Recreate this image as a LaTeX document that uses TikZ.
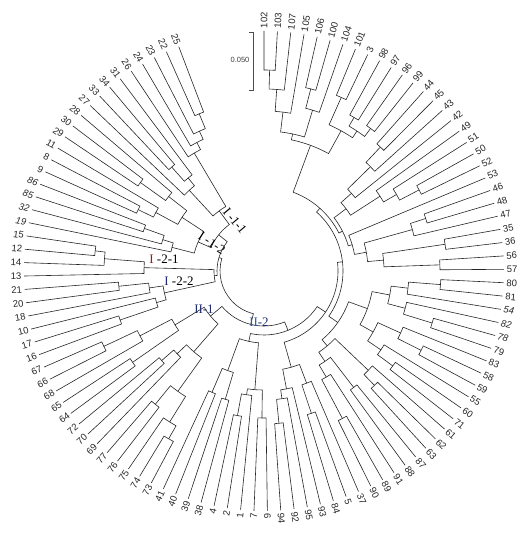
\documentclass[tikz,border=0pt]{standalone}
\usepackage{fontspec}
\setmainfont{Liberation Serif}
\newfontfamily\lblfont{Liberation Sans}
\definecolor{gred}{RGB}{150,30,30}
\definecolor{gnavy}{RGB}{30,45,110}
\definecolor{gblue}{RGB}{40,90,160}
\tikzset{
  br/.style={line width=0.6pt, draw=black!85},
  lbl/.style={font=\lblfont\fontsize{9.5}{11}\selectfont, inner sep=0.6pt, text=black!85},
  itl/.style={font=\lblfont\fontsize{9.5}{11}\selectfont\itshape},
  grp/.style={font=\fontsize{13}{15}\selectfont, inner sep=0pt, text=black},
  sb/.style={line width=0.6pt, draw=black!70},
  sblbl/.style={font=\lblfont\fontsize{7.5}{9}\selectfont, text=black!75, inner sep=0pt}
}
% leaf: index, label, extra style
\newcommand\Lf[3]{%
  \expandafter\xdef\csname tp@#2\endcsname{#1}%
  \expandafter\xdef\csname tr@#2\endcsname{240}%
  \pgfmathsetmacro\lang{90-(#1-1)*3.2}%
  \pgfmathtruncatemacro\lside{cos(\lang)>-0.01 ? 1 : 0}%
  \ifnum\lside=1
    \node[lbl,#3,anchor=west,rotate=\lang] (n#2) at (\lang:242pt) {#2};%
  \else
    \pgfmathsetmacro\lrot{\lang+180}%
    \node[lbl,#3,anchor=east,rotate=\lrot] (n#2) at (\lang:242pt) {#2};%
  \fi
}
% join: name, child1, child2, radius
\newcommand\J[4]{%
  \pgfmathsetmacro\posA{\csname tp@#2\endcsname}%
  \pgfmathsetmacro\posB{\csname tp@#3\endcsname}%
  \pgfmathsetmacro\posM{(\posA+\posB)/2}%
  \expandafter\xdef\csname tp@#1\endcsname{\posM}%
  \expandafter\xdef\csname tr@#1\endcsname{#4}%
  \pgfmathsetmacro\angA{90-(\posA-1)*3.2}%
  \pgfmathsetmacro\angB{90-(\posB-1)*3.2}%
  \edef\radA{\csname tr@#2\endcsname}%
  \edef\radB{\csname tr@#3\endcsname}%
  \draw[br] (\angA:\radA pt) -- (\angA:#4pt) arc[start angle=\angA, end angle=\angB, radius=#4pt] -- (\angB:\radB pt);%
}
\begin{document}
\begin{tikzpicture}
\useasboundingbox (-264pt,-263pt) rectangle (267pt,271pt);
% leaves
\Lf{1}{102}{}\Lf{2}{103}{}\Lf{3}{107}{}\Lf{4}{105}{}\Lf{5}{106}{}\Lf{6}{100}{}
\Lf{7}{104}{}\Lf{8}{101}{}\Lf{9}{3}{}\Lf{10}{98}{}\Lf{11}{97}{}\Lf{12}{96}{}
\Lf{13}{99}{}\Lf{14}{44}{}\Lf{15}{45}{}\Lf{16}{43}{}\Lf{17}{42}{}\Lf{18}{49}{}
\Lf{19}{51}{}\Lf{20}{50}{}\Lf{21}{52}{}\Lf{22}{53}{}\Lf{23}{46}{}\Lf{24}{48}{}
\Lf{25}{47}{}\Lf{26}{35}{}\Lf{27}{36}{}\Lf{28}{56}{}\Lf{29}{57}{}\Lf{30}{80}{}
\Lf{31}{81}{}\Lf{32}{54}{itl}\Lf{33}{82}{itl}\Lf{34}{78}{itl}\Lf{35}{79}{}\Lf{36}{83}{}
\Lf{37}{58}{}\Lf{38}{59}{}\Lf{39}{55}{}\Lf{40}{60}{}\Lf{41}{71}{}\Lf{42}{61}{}
\Lf{43}{62}{}\Lf{44}{63}{}\Lf{45}{87}{}\Lf{46}{88}{}\Lf{47}{91}{}\Lf{48}{89}{}
\Lf{49}{90}{}\Lf{50}{37}{}\Lf{51}{5}{}\Lf{52}{84}{}\Lf{53}{93}{}\Lf{54}{95}{}
\Lf{55}{92}{}\Lf{56}{94}{}\Lf{57}{6}{}\Lf{58}{7}{}\Lf{59}{1}{}\Lf{60}{2}{}
\Lf{61}{4}{}\Lf{62}{38}{}\Lf{63}{39}{}\Lf{64}{40}{}\Lf{65}{41}{}\Lf{66}{73}{}
\Lf{67}{74}{}\Lf{68}{75}{}\Lf{69}{76}{}\Lf{70}{77}{}\Lf{71}{69}{}\Lf{72}{70}{}
\Lf{73}{72}{}\Lf{74}{64}{}\Lf{75}{65}{}\Lf{76}{68}{}\Lf{77}{66}{}\Lf{78}{67}{}
\Lf{79}{16}{}\Lf{80}{17}{}\Lf{81}{10}{}\Lf{82}{18}{}\Lf{83}{20}{}\Lf{84}{21}{}
\Lf{85}{13}{}\Lf{86}{14}{}\Lf{87}{12}{}\Lf{88}{15}{}\Lf{89}{19}{itl}\Lf{90}{32}{itl}
\Lf{91}{85}{itl}\Lf{92}{86}{itl}\Lf{93}{9}{}\Lf{94}{8}{}\Lf{95}{11}{}\Lf{96}{29}{}
\Lf{97}{30}{}\Lf{98}{28}{}\Lf{99}{27}{}\Lf{100}{33}{}\Lf{101}{34}{}\Lf{102}{31}{}
\Lf{103}{26}{}\Lf{104}{24}{}\Lf{105}{23}{}\Lf{106}{22}{}\Lf{107}{25}{}
% clade A
\J{a1}{102}{103}{201}\J{a2}{a1}{107}{182}\J{a3}{a2}{105}{160}
\J{a4}{106}{100}{188}\J{a5}{a4}{104}{168}\J{a6}{a3}{a5}{140}
\J{a7}{101}{3}{190}\J{a8}{98}{97}{178}\J{a9}{96}{99}{178}
\J{a10}{a8}{a9}{168}\J{a11}{a7}{a10}{160}\J{aA}{a6}{a11}{134}
% clade B
\J{b1}{44}{45}{170}\J{b2}{b1}{43}{149}\J{b3}{b2}{42}{117}
\J{b4}{50}{52}{175}\J{b5}{51}{b4}{153}\J{b6}{49}{b5}{138}
\J{b7}{b3}{b6}{103}\J{b8}{46}{48}{170}\J{b9}{b8}{47}{154}
\J{b11}{35}{36}{183}\J{b12}{56}{57}{176}
\J{b13}{b11}{b12}{120}\J{b14}{b9}{b13}{104}\J{b15}{53}{b14}{92}
\J{bB}{b7}{b15}{88}
% clade C
\J{c1}{80}{81}{177}\J{c2}{c1}{54}{145}\J{c3}{78}{79}{176}
\J{c4}{82}{c3}{146}\J{c5}{c2}{c4}{128}\J{c6}{58}{59}{176}
\J{c7}{83}{c6}{150}\J{c8}{60}{71}{160}\J{c9}{55}{c8}{141}
\J{c10}{c7}{c9}{125}\J{c11}{c5}{c10}{110}\J{c12}{62}{63}{159}
\J{c13}{61}{c12}{144}\J{c14}{87}{88}{147}\J{c15}{89}{90}{167}
\J{c16}{91}{c15}{123}\J{c17}{c14}{c16}{109}\J{c18}{c13}{c17}{98}
\J{cC}{c11}{c18}{90}
% clade D
\J{d1}{92}{94}{153}\J{d2}{95}{d1}{129}\J{d3}{93}{d2}{120}
\J{d4}{5}{84}{150}\J{d5}{37}{d4}{120}\J{dD}{d5}{d3}{100}
% clade Z
\J{z1}{6}{7}{147}\J{z2}{2}{4}{147}\J{z3}{1}{z2}{125}
\J{z4}{z1}{z3}{119}\J{z5}{38}{39}{134}\J{z6}{40}{41}{132}
\J{z7}{z5}{z6}{106}\J{zZ}{z4}{z7}{72}
% II-2 backbone
\J{AB}{aA}{bB}{84}\J{ABC}{AB}{cC}{79}\J{ABCD}{ABC}{dD}{74}
\J{IIb}{ABCD}{zZ}{64}
% II-1
\J{e1}{73}{74}{193}\J{e2}{e1}{75}{178}\J{e3}{76}{77}{172}
\J{e4}{e2}{e3}{148}\J{e5}{70}{72}{136}\J{e6}{69}{e5}{120}
\J{e7}{e4}{e6}{107}\J{e8}{64}{65}{160}\J{e9}{66}{67}{177}
\J{e10}{68}{e9}{140}\J{e11}{e8}{e10}{104}\J{IIa}{e7}{e11}{70}
\J{II}{IIa}{IIb}{55}
% group I
\J{f1}{22}{25}{170}\J{f2}{f1}{23}{154}\J{f3}{f2}{24}{145}
\J{f4}{f3}{26}{137}\J{f5}{34}{33}{139}\J{f6}{31}{f5}{120}
\J{f7}{f6}{27}{110}\J{Ia}{f4}{f7}{75}
\J{g1}{30}{29}{152}\J{g2}{28}{g1}{121}\J{g3}{8}{9}{140}
\J{g4}{11}{g3}{123}\J{g5}{g2}{g4}{98}\J{g6}{86}{85}{127}
\J{g7}{g6}{32}{106}\J{g8}{g7}{19}{95}\J{Ib}{g5}{g8}{72}
\J{I1}{Ia}{Ib}{58}
\J{h1}{15}{12}{170}\J{h2}{h1}{14}{160}\J{Ic}{h2}{13}{120}
\J{k1}{21}{20}{146}\J{k2}{k1}{18}{116}\J{k3}{17}{16}{152}
\J{k4}{10}{k3}{112}\J{Id}{k2}{k4}{102}
\J{I2}{Ic}{Id}{50}\J{Iall}{I1}{I2}{47}
\J{root}{Iall}{II}{44}
% group labels
\node[grp,rotate=-50] (gA) at (-29pt,50pt) {I -1-1};
\node[grp,rotate=-33] (gB) at (-52pt,28pt) {I -1-2};
\node[grp] (gC) at (-100pt,12pt) {\textcolor{gred}{I} -2-1};
\node[grp] (gD) at (-85pt,-10pt) {\textcolor{gnavy}{I} -2-2};
\node[grp,text=gnavy] (gE) at (-60pt,-38pt) {II-1};
\node[grp,text=gnavy] (gF) at (-5pt,-51pt) {\textcolor{gblue}{II}-2};
% scale bar
\coordinate (sbT) at (-11pt,239pt);
\coordinate (sbB) at (-11pt,181pt);
\draw[sb] ([xshift=-4pt]sbT) -- (sbT) -- (sbB) -- ([xshift=-4pt]sbB);
\node[sblbl] (sbl) at (-24pt,211pt) {0.050};
\end{tikzpicture}
\end{document}
